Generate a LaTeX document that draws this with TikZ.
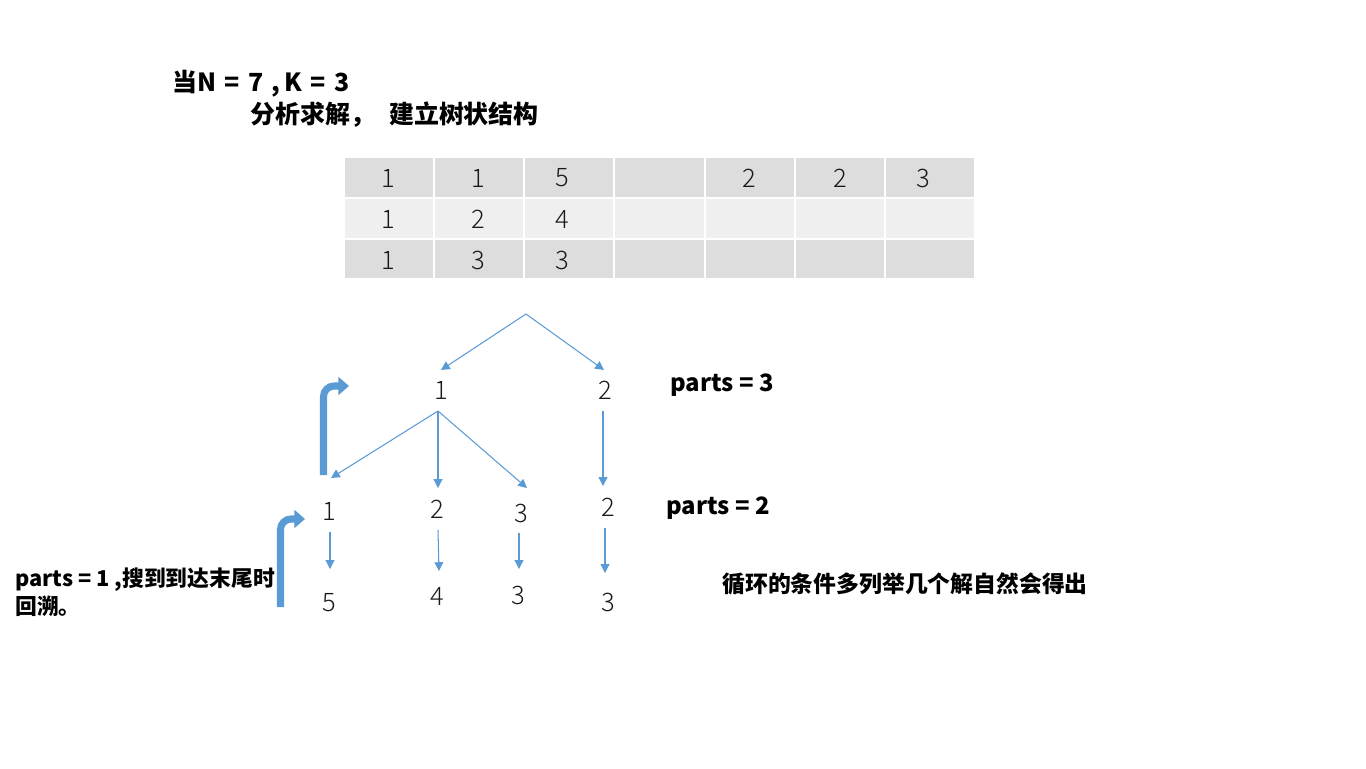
\documentclass[tikz,border=0pt]{standalone}
\usepackage{fontspec}
\setmainfont{Noto Sans CJK SC}
\newfontfamily\cjk{Noto Sans CJK SC}
\newfontfamily\lightdig{Noto Sans CJK SC Light}
\usetikzlibrary{arrows.meta}
\definecolor{ablue}{HTML}{5B9BD5}
\definecolor{rowA}{HTML}{DDDDDD}
\definecolor{rowB}{HTML}{EFEFEF}
\tikzset{
  num/.style={font=\lightdig\fontsize{14.5}{16}\selectfont, text=black!90, inner sep=0pt, anchor=center},
  lbl/.style={font=\cjk\bfseries\fontsize{13}{15}\selectfont, inner sep=0pt, anchor=west},
  ttl/.style={lbl, font=\cjk\bfseries\fontsize{14.2}{16}\selectfont},
  thin/.style={draw=ablue, line width=0.6pt, -{Triangle[length=5pt,width=5pt]}},
  bent/.style={draw=ablue, line width=4pt, rounded corners=6pt, -{Triangle[length=6pt,width=10pt]}},
  cellA/.style={fill=rowA, draw=white, line width=1.2pt},
  cellB/.style={fill=rowB, draw=white, line width=1.2pt},
}
\begin{document}
\begin{tikzpicture}[x=0.02cm,y=-0.02cm]
\useasboundingbox (0,0) rectangle (1366,768);
% title
\node[ttl] (t1) at (172,84) {当N\,\,=\,\,7\,\,,\,K\,\,=\,\,3};
\node[ttl] (t2) at (250,115) {分析求解，\hspace{8pt}建立树状结构};
% table
\foreach \r/\ya/\yb/\st in {1/157/198/cellA,2/198/239/cellB,3/239/279/cellA}{
  \foreach \xa/\xb in {344/434,434/524,524/614,614/705,705/795,795/885,885/975}{
    \path[\st] (\xa,\ya) rectangle (\xb,\yb);
  }
}
\node[num] (c11) at (388,178) {1};
\node[num] (c12) at (478,178) {1};
\node[num] (c13) at (562,178) {5};
\node[num] (c15) at (749,178) {2};
\node[num] (c16) at (840,178) {2};
\node[num] (c17) at (923,178) {3};
\node[num] (c21) at (388,219) {1};
\node[num] (c22) at (478,219) {2};
\node[num] (c23) at (562,219) {4};
\node[num] (c31) at (388,260) {1};
\node[num] (c32) at (478,260) {3};
\node[num] (c33) at (562,260) {3};
% tree nodes
\coordinate (root) at (526,314);
\node[num] (a1) at (441,390) {1};
\node[num] (a2) at (605,390) {2};
\node[num] (b1) at (329,511) {1};
\node[num] (b2) at (437,509) {2};
\node[num] (b3) at (521,513) {3};
\node[num] (b4) at (608,507) {2};
\node[num] (d1) at (329,603) {5};
\node[num] (d2) at (437,596) {4};
\node[num] (d3) at (518,595) {3};
\node[num] (d4) at (608,602) {3};
% arrow end points
\coordinate (ra1) at (441,370);
\coordinate (ra2) at (604,370);
\coordinate (a1s) at (438,411);
\coordinate (a1b1) at (331,478);
\coordinate (a1b2) at (438,488);
\coordinate (a1b3) at (527,488);
\coordinate (a2s) at (603,411);
\coordinate (a2b4) at (603,486);
\coordinate (b1s) at (330,532);
\coordinate (b1d) at (330,569);
\coordinate (b2s) at (438,530);
\coordinate (b2d) at (439,571);
\coordinate (b3s) at (519,533);
\coordinate (b3d) at (519,569);
\coordinate (b4s) at (605,528);
\coordinate (b4d) at (605,573);
\draw[thin] (root) -- (ra1);
\draw[thin] (root) -- (ra2);
\draw[thin] (a1s) -- (a1b1);
\draw[thin] (a1s) -- (a1b2);
\draw[thin] (a1s) -- (a1b3);
\draw[thin] (a2s) -- (a2b4);
\draw[thin] (b1s) -- (b1d);
\draw[thin] (b2s) -- (b2d);
\draw[thin] (b3s) -- (b3d);
\draw[thin] (b4s) -- (b4d);
% bent arrows
\coordinate (u1s) at (323.5,475);
\coordinate (u1c) at (323.5,386);
\coordinate (u1e) at (349,386);
\draw[bent] (u1s) -- (u1c) -- (u1e);
\coordinate (u2s) at (280.5,607);
\coordinate (u2c) at (280.5,519);
\coordinate (u2e) at (305,519);
\draw[bent] (u2s) -- (u2c) -- (u2e);
% labels
\node[lbl, font=\cjk\bfseries\fontsize{13.6}{15}\selectfont] (p3) at (670,385) {parts = 3};
\node[lbl, font=\cjk\bfseries\fontsize{13.6}{15}\selectfont] (p2) at (666,508) {parts = 2};
\node[lbl, font=\cjk\bfseries\fontsize{12.4}{15}\selectfont] (p1) at (15,580) {parts = 1 ,搜到到达末尾时};
\node[lbl, font=\cjk\bfseries\fontsize{12.4}{15}\selectfont] (p1b) at (15,606) {回溯。};
\node[lbl] (note) at (722,584) {循环的条件多列举几个解自然会得出};
\end{tikzpicture}
\end{document}
